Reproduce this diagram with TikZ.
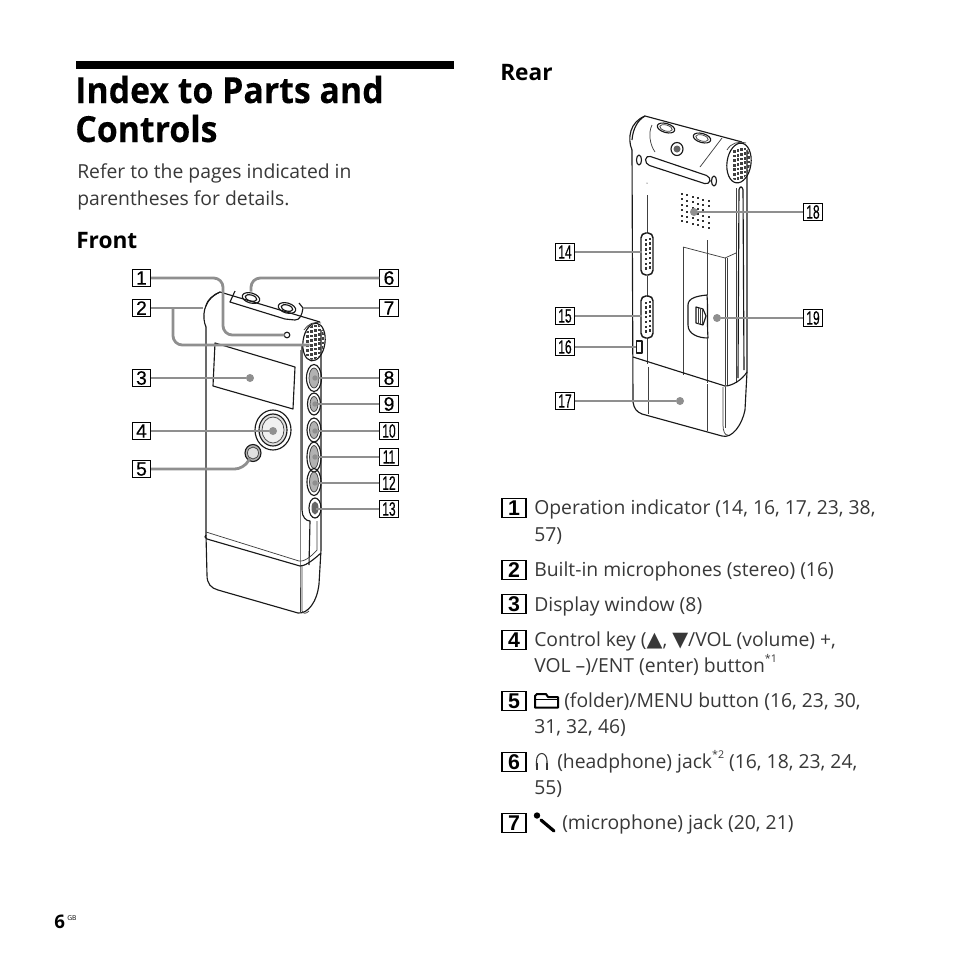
\documentclass[tikz,border=0pt]{standalone}
\usepackage{fontspec}
\usepackage{graphicx}
\setmainfont{Open Sans}
\newfontfamily\headf{Open Sans}[FakeStretch=.94,BoldFeatures={FakeBold=.2}]
\newfontfamily\symb{DejaVu Sans}
\newfontfamily\labf{Liberation Sans}[FakeBold=.5]
\newfontfamily\labb{Liberation Sans}
\newcommand{\nn}[1]{\scalebox{.62}[1]{#1}}
\newcommand{\tri}[1]{{\symb\fontsize{15.5pt}{16pt}\selectfont #1}}
\newcommand{\supr}[1]{\raisebox{.5em}{\fontsize{8pt}{9pt}\selectfont #1}}
\definecolor{ink}{gray}{0.22}
\definecolor{lead}{gray}{0.56}
\tikzset{
 x=0.75pt,y=-0.75pt,
 body/.style={anchor=base west,inner sep=0pt,font=\fontsize{14.5pt}{16pt}\selectfont,text=ink},
 head/.style={anchor=base west,inner sep=0pt,font=\headf\fontsize{27pt}{30pt}\selectfont\bfseries,text=black},
 sub/.style={anchor=base west,inner sep=0pt,font=\fontsize{17pt}{18pt}\selectfont\bfseries,text=black},
 lab/.style={draw=black,line width=.75pt,inner sep=0pt,minimum width=13.8pt,minimum height=13.2pt,font=\labf\fontsize{14.5pt}{15pt}\selectfont},
 big/.style={draw=black,line width=1pt,inner sep=0pt,minimum width=18pt,minimum height=14.2pt,font=\labb\fontsize{16pt}{17pt}\selectfont\bfseries},
 dev/.style={draw=black!90,line width=.85pt,line join=round},
 thin/.style={draw=black!75,line width=.55pt},
 leader/.style={draw=lead,line width=2.1pt,rounded corners=7pt},
 dot/.style={circle,fill=lead,inner sep=0pt,minimum size=6pt},
 pt/.style={inner sep=0pt,minimum size=0pt},
}
\begin{document}
\begin{tikzpicture}
\useasboundingbox (0,0) rectangle (954,954);
\fill[white] (0,0) rectangle (954,954);
% header
\fill[black] (76,61) rectangle (454,69);
\node[head] (t1) at (75,103) {Index to Parts and};
\node[head] (t2) at (75,142) {Controls};
\node[body] (t3) at (77,178) {Refer to the pages indicated in};
\node[body] (t4) at (77,205) {parentheses for details.};
\node[sub] (t5) at (76,248) {Front};
\node[sub] (t6) at (500,80) {Rear};
% ---------- FRONT DEVICE
\draw[dev] (206,327) -- (206,535) -- (207,575) .. controls (207,584) and (211,588) .. (218,590) -- (298,613) .. controls (308,614) and (317,602) .. (319,584) -- (321,550) -- (321,330);
\draw[dev] (206,327) .. controls (202,318) and (202,300) .. (220,292) -- (320,322);
\draw[dev] (206,306) .. controls (207,300) and (213,295) .. (220,292);
\draw[dev,rotate around={-8:(314,342)}] (314,342) ellipse [x radius=11,y radius=19];
\draw[thin] (304,330) .. controls (308,324) and (314,321) .. (321,323);
\begin{scope}
\clip[rotate around={-8:(314,342)}] (314,342) ellipse [x radius=10,y radius=18];
\foreach \i in {0,...,4}\foreach \j in {0,...,7}{\fill[black!75] (306+\i*4,326+\j*4.6-\i*.7) rectangle +(2.6,2.8);}
\end{scope}
% jack plate
\draw[dev] (235,291) -- (230,302) -- (285,319) -- (295,320) .. controls (300,320) and (302,315) .. (303,308) -- (299,303);
\draw[dev,rotate around={-16:(251,298)}] (251,298) ellipse [x radius=9,y radius=5];
\draw[dev,rotate around={-16:(251,298)}] (251,298) ellipse [x radius=6,y radius=3];
\draw[dev,rotate around={-16:(287,308)}] (287,308) ellipse [x radius=9,y radius=5];
\draw[dev,rotate around={-16:(287,308)}] (287,308) ellipse [x radius=6,y radius=3];
\draw[dev] (287,335) circle [radius=2.8];
% display
\draw[dev] (215,343) -- (295,367) -- (293,409) -- (213,386) -- cycle;
% side strip
\draw[dev] (302,345) -- (302,510) .. controls (302,517) and (306,521) .. (310,521) -- (309,565);
\draw[thin] (300,350) -- (300,563) -- (300,613);
\foreach \cy/\rx/\ry in {378/7.5/13.5,404/6.5/11,430/7/12,457/7/15,482/7/13.5}{
 \draw[dev] (314,\cy) ellipse [x radius=\rx,y radius=\ry];
 \draw[thin,fill=black!30] (314,\cy) ellipse [x radius=\rx-2.5,y radius=\ry-3.5];
}
\draw[dev] (315,508) ellipse [x radius=6,y radius=10];
\fill[black!60] (315,508) ellipse [x radius=3.5,y radius=6.5];
% band
\draw[dev] (206,535) .. controls (204,536) and (205,538) .. (207,539) -- (300,566) .. controls (304,566) and (310,563) .. (321,553);
\draw[thin] (206,532) -- (299,561) .. controls (303,562) and (310,558) .. (317,550) -- (317,521);
\draw[thin] (302,566) -- (302,611) .. controls (303,614) and (306,614) .. (309,611);
% control key and folder button
\draw[dev] (273,430) ellipse [x radius=18,y radius=20];
\draw[dev,fill=black!12] (273,430) ellipse [x radius=14,y radius=16];
\draw[thin,fill=black!6] (273,430) ellipse [x radius=11,y radius=13];
\draw[dev,fill=black!30] (253,453) ellipse [x radius=8,y radius=8.5];
\draw[thin,fill=black!12] (253,453) ellipse [x radius=5.5,y radius=6];
% ---------- FRONT LABELS
\node[lab] (a1) at (141.5,278) {1};
\node[lab] (a2) at (141.5,308) {2};
\node[lab] (a3) at (141.5,378) {3};
\node[lab] (a4) at (141.5,431) {4};
\node[lab] (a5) at (141.5,469) {5};
\node[lab] (a6) at (389,278) {6};
\node[lab] (a7) at (389,308) {7};
\node[lab] (a8) at (389,378) {8};
\node[lab] (a9) at (389,404) {9};
\node[lab] (a10) at (389,431) {\nn{10}};
\node[lab] (a11) at (389,457) {\nn{11}};
\node[lab] (a12) at (389,483) {\nn{12}};
\node[lab] (a13) at (389,509) {\nn{13}};
\node[pt] (e1) at (285,335) {};
\node[pt] (e2a) at (203,308) {};
\node[pt] (e2b) at (310,345) {};
\node[dot] (e3) at (250,378) {};
\node[dot] (e4) at (273,431) {};
\node[pt] (e5) at (250,458) {};
\node[pt] (e6) at (251,292) {};
\node[pt] (e7) at (303,308) {};
\node[dot,minimum size=4pt] (e8) at (315,378) {};
\node[dot,minimum size=4pt] (e9) at (315,404) {};
\node[dot,minimum size=4pt] (e10) at (315,431) {};
\node[dot,minimum size=4pt] (e11) at (315,457) {};
\node[dot,minimum size=4pt] (e12) at (315,483) {};
\node[pt] (e13) at (316,509) {};
\coordinate (c2) at (173,308);
\draw[leader] (a1.east) -- (223,278) -- (223,335) -- (e1);
\draw[leader] (a2.east) -- (e2a);
\draw[leader] (c2) -- (173,345) -- (e2b);
\draw[leader] (a3.east) -- (e3);
\draw[leader] (a4.east) -- (e4);
\draw[leader] (a5.east) -- (244,469) -- (e5);
\draw[leader] (a6.west) -- (251,278) -- (e6);
\draw[leader] (a7.west) -- (e7);
\foreach \i in {8,...,13}{\draw[leader] (a\i.west) -- (e\i);}
% ---------- REAR DEVICE
\draw[dev] (632,150) -- (633,402) .. controls (634,409) and (637,412) .. (642,414) -- (722,436) .. controls (732,439) and (742,425) .. (745,410) -- (747,372) -- (747,150);
\draw[dev] (632,150) .. controls (627,138) and (630,122) .. (645,116) -- (742,142);
\draw[dev] (632,140) .. controls (633,128) and (638,120) .. (645,116);
\draw[dev,rotate around={-8:(739,163)}] (739,163) ellipse [x radius=12,y radius=20];
\draw[thin] (727,150) .. controls (731,143) and (738,141) .. (746,143);
\begin{scope}
\clip[rotate around={-8:(739,163)}] (739,163) ellipse [x radius=11,y radius=18];
\foreach \i in {0,...,4}\foreach \j in {0,...,6}{\fill[black!75] (733+\i*3.6,150+\j*4.6-\i*.8) rectangle +(2.6,2.8);}
\end{scope}
% plate
\draw[thin] (652,125) .. controls (648,133) and (650,145) .. (655,152);
\draw[thin] (722,138) -- (700,167);
\draw[dev,rotate around={-16:(666,128)}] (666,128) ellipse [x radius=9,y radius=4.5];
\draw[thin,rotate around={-16:(666,128)}] (666,128) ellipse [x radius=6.5,y radius=3];
\draw[dev,rotate around={-16:(702,138)}] (702,138) ellipse [x radius=9,y radius=4.5];
\draw[thin,rotate around={-16:(702,138)}] (702,138) ellipse [x radius=6.5,y radius=3];
\draw[dev] (677,149) ellipse [x radius=6,y radius=6.5];
\fill[black!60] (677,149) circle [radius=3.5];
% slot
\draw[dev,rounded corners=3.5pt] (646,155) -- (711,177) -- (709,185) -- (645,164) -- cycle;
\draw[dev] (639,160) ellipse [x radius=2.5,y radius=5];
\draw[dev] (714,181) ellipse [x radius=2.5,y radius=5];
\fill[black] (647,183) circle [radius=.5];
\draw[thin] (647,195) -- (647,233);
\draw[thin] (647,276) -- (647,297);
\draw[thin] (647,338) -- (647,364);
% speaker
\foreach \c in {0,...,5}\foreach \r in {0,...,5}{\fill[black!80] (681+\c*5.3,193+\r*5.4+\c*1.4) rectangle +(2,2);}
% switches
\foreach \cy in {254,317}{
 \draw[dev,rounded corners=3.6pt,line width=1.1pt] (641,\cy-21) rectangle (653,\cy+21);
 \foreach \k in {-3,...,3}{\fill[black!80] (644.5,\cy+\k*4.8-1) rectangle +(2.2,2.4); \fill[black!80] (648.5,\cy+\k*4.8-2) rectangle +(2.2,2.4);}
}
\draw[dev] (636.5,341) rectangle (642,353);
% door
\draw[thin] (683,247) -- (725,258) -- (736,253);
\draw[thin] (683,247) -- (683,375);
\draw[thin] (707,240) -- (707,295);
\draw[dev] (707,295) .. controls (697,296) and (688,298) .. (688,305) -- (688,325) .. controls (688,334) and (698,338) .. (708,338) .. controls (707,325) and (708,305) .. (707,295);
\draw[thin] (707,338) -- (707,383);
\draw[dev] (696,307) -- (703,309) -- (706,316) -- (703,325) -- (696,323) -- cycle;
\foreach \xx in {698,700,702}{\draw[thin] (\xx,308) -- (\xx,324);}
\draw[thin] (725,258) -- (725,385);
\draw[thin] (727.5,258) -- (727.5,385);
\draw[thin] (736,188) -- (736,383);
\draw[dev,rounded corners=2pt] (738,378) -- (739,187) -- (743,187) -- (744,370);
% seam
\draw[dev] (633,357) -- (725,386) .. controls (732,386) and (742,380) .. (747,372);
\draw[thin] (648,367) -- (648,414);
\draw[thin] (707,384) -- (707,431);
\draw[thin] (723,387) -- (723,425) .. controls (723,431) and (725,436) .. (728,435);
\draw[thin] (725,387) -- (725,428);
% ---------- REAR LABELS
\node[lab] (b14) at (565,252) {\nn{14}};
\node[lab] (b15) at (565,316) {\nn{15}};
\node[lab] (b16) at (565,347) {\nn{16}};
\node[lab] (b17) at (565,401) {\nn{17}};
\node[lab] (b18) at (813,212) {\nn{18}};
\node[lab] (b19) at (813,318) {\nn{19}};
\node[pt] (f14) at (642,252) {};
\node[pt] (f15) at (642,316) {};
\node[pt] (f16) at (636,347) {};
\node[dot] (f17) at (680,401) {};
\node[dot] (f18) at (694,212) {};
\node[dot] (f19) at (717,318) {};
\foreach \i in {14,...,17}{\draw[leader] (b\i.east) -- (f\i);}
\foreach \i in {18,19}{\draw[leader] (b\i.west) -- (f\i);}
% ---------- LIST
\node[big] (n1) at (514,508) {1};
\node[big] (n2) at (514,570) {2};
\node[big] (n3) at (514,604) {3};
\node[big] (n4) at (514,640) {4};
\node[big] (n5) at (514,701) {5};
\node[big] (n6) at (514,762) {6};
\node[big] (n7) at (514,823) {7};
\node[body] (l1) at (534,514) {Operation indicator (14, 16, 17, 23, 38,};
\node[body] (l1b) at (534,541) {57)};
\node[body] (l2) at (534,576) {Built-in microphones (stereo) (16)};
\node[body] (l3) at (534,611) {Display window (8)};
\node[body] (l4) at (534,646) {Control key (\tri{▲}, \tri{▼}/VOL (volume) +,};
\node[body] (l4b) at (534,672) {VOL –)/ENT (enter) button\supr{*1}};
\node[body] (l5) at (564,707) {(folder)/MENU button (16, 23, 30,};
\node[body] (l5b) at (534,733) {31, 32, 46)};
\node[body] (l6) at (557,768) {(headphone) jack\supr{*2} (16, 18, 23, 24,};
\node[body] (l6b) at (534,794) {55)};
\node[body] (l7) at (562,829) {(microphone) jack (20, 21)};
% folder icon
\draw[black,line width=1.5pt,line join=round] (535,707.5) -- (535,696) -- (537,694) -- (546,694) -- (548,697) -- (558,697) -- (558,707.5) -- cycle;
\draw[black,line width=1.2pt] (535,699.5) -- (558,699.5);
% headphone icon
\draw[ink,line width=.8pt] (536.5,766) -- (536.5,761) .. controls (536.5,751) and (547,751) .. (547,761) -- (547,766);
\fill[ink] (535.5,763) rectangle (537.5,770);
\fill[ink] (546,763) rectangle (548,770);
% mic icon
\fill[black] (537,815.5) circle [radius=3.2];
\draw[black,line width=2.4pt,line cap=round] (541,820) -- (554,831);
% page number
\node[anchor=base west,inner sep=0pt,font=\fontsize{14pt}{15pt}\selectfont\bfseries] (p) at (54,928) {6};
\node[anchor=base west,inner sep=0pt,font=\fontsize{5pt}{6pt}\selectfont] (pg) at (67,920) {GB};
\end{tikzpicture}
\end{document}
